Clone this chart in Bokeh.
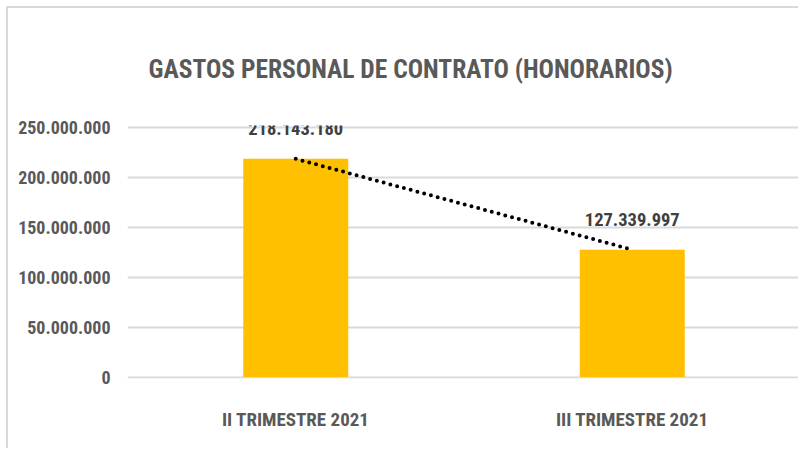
from bokeh.plotting import figure
from bokeh.models import FactorRange, Range1d, FixedTicker, ColumnDataSource
from bokeh.core.properties import value
from bokeh.embed import file_html
from bokeh.resources import INLINE

title_text = "GASTOS PERSONAL DE CONTRATO (HONORARIOS)"
categories = ["II TRIMESTRE 2021", "III TRIMESTRE 2021"]
values = [218143180, 127339997]
value_labels = ["218.143.180", "127.339.997"]
tick_values = [0, 50000000, 100000000, 150000000, 200000000, 250000000]
tick_labels = ["0", "50.000.000", "100.000.000", "150.000.000", "200.000.000", "250.000.000"]

FONT = "Roboto Condensed"
TXT = "#595959"

src = ColumnDataSource(dict(cat=categories, val=values, lab=value_labels))

p = figure(width=792, height=442, output_backend="svg", toolbar_location=None,
           x_range=FactorRange(*categories, range_padding=0),
           y_range=Range1d(-1500000, 251500000))
p.min_border_left = 119
p.min_border_right = 0
p.min_border_top = 117
p.min_border_bottom = 72
p.outline_line_color = None
p.background_fill_color = "white"
p.border_fill_color = "white"
p.styles = {"margin-left": "6px", "margin-top": "6px",
            "border-left": "2px solid #D9D9D9", "border-top": "2px solid #D9D9D9"}

p.vbar(x="cat", top="val", width=0.312, source=src, color="#FFC000", line_color=None)
p.line(x="cat", y="val", source=src, line_color="black", line_width=4,
       line_dash="0 7", line_cap="round")
p.text(x="cat", y="val", text="lab", source=src, text_font=value(FONT),
       text_font_style="bold", text_font_size="18.5px", text_color="#404040",
       text_align="center", text_baseline="middle", y_offset=-30)

p.xgrid.grid_line_color = None
p.ygrid.grid_line_color = "#D9D9D9"
p.ygrid.grid_line_width = 2
p.yaxis.ticker = FixedTicker(ticks=tick_values)
p.yaxis.major_label_overrides = {t: l for t, l in zip(tick_values, tick_labels)}

for ax in (p.xaxis[0], p.yaxis[0]):
    ax.axis_line_color = None
    ax.major_tick_line_color = None
    ax.minor_tick_line_color = None
    ax.major_tick_out = 0
    ax.major_tick_in = 0
    ax.minor_tick_out = 0
    ax.minor_tick_in = 0
    ax.major_label_text_font = FONT
    ax.major_label_text_font_style = "bold"
    ax.major_label_text_color = TXT
p.yaxis.major_label_text_font_size = "18px"
p.xaxis.major_label_text_font_size = "19px"
p.yaxis.major_label_standoff = 17
p.xaxis.major_label_standoff = 29

p.title.text = title_text
p.title.text_font = FONT
p.title.text_font_style = "bold"
p.title.text_font_size = "25.5px"
p.title.text_color = TXT
p.title.align = "left"
p.title.offset = 21
p.title.standoff = 84

open("out.html", "w").write(file_html(p, INLINE))
